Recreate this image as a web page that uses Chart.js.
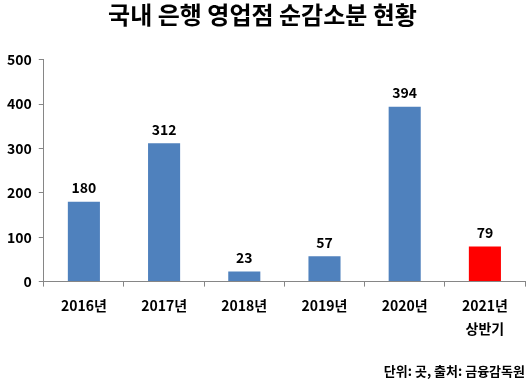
<!DOCTYPE html>
<html><head><meta charset="utf-8">
<script src="https://cdn.jsdelivr.net/npm/chart.js@4/dist/chart.umd.min.js"></script>
<style>html,body{margin:0;padding:0;background:#fff;}#c{display:block;}</style>
</head><body>
<canvas id="c" width="530" height="383"></canvas>
<script>
const categories = [["2016년"], ["2017년"], ["2018년"], ["2019년"], ["2020년"], ["2021년", "상반기"]];
const values = [180, 312, 23, 57, 394, 79];
const barColors = ["#4F81BD", "#4F81BD", "#4F81BD", "#4F81BD", "#4F81BD", "#FF0000"];
const yTicks = [0, 100, 200, 300, 400, 500];
const titleText = "국내 은행 영업점 순감소분 현황";
const footerText = "단위: 곳, 출처: 금융감독원";

const FONT = "'Noto Sans CJK KR', 'Noto Sans', sans-serif";

const labelPlugin = {
  id: 'barLabels',
  afterDatasetsDraw(chart) {
    const ctx = chart.ctx;
    const meta = chart.getDatasetMeta(0);
    ctx.save();
    ctx.font = "bold 14px " + FONT;
    ctx.fillStyle = "#000";
    ctx.textAlign = "center";
    ctx.textBaseline = "bottom";
    meta.data.forEach((bar, i) => {
      ctx.fillText(String(values[i]), bar.x, bar.y - 7);
    });
    ctx.restore();
  }
};

new Chart(document.getElementById('c'), {
  type: 'bar',
  data: {
    labels: categories,
    datasets: [{
      data: values,
      backgroundColor: barColors,
      borderWidth: 0,
      barPercentage: 0.8,
      categoryPercentage: 0.5
    }]
  },
  options: {
    responsive: false,
    animation: false,
    layout: { padding: { left: 0, right: 5, top: 0, bottom: 0 } },
    plugins: {
      legend: { display: false },
      tooltip: { enabled: false },
      title: {
        display: true, text: titleText, color: '#000',
        font: { family: FONT, size: 24, weight: 'bold' },
        padding: { top: 0, bottom: 31 }
      },
      subtitle: {
        display: true, text: footerText, position: 'bottom', align: 'end', color: '#000',
        font: { family: FONT, size: 13, weight: 'bold' },
        padding: { top: 16, bottom: 4 }
      }
    },
    scales: {
      y: {
        min: 0, max: 500,
        afterBuildTicks(axis) { axis.ticks = yTicks.map(v => ({ value: v })); },
        border: { display: true, color: '#868686', width: 1 },
        grid: { display: true, drawOnChartArea: false, drawTicks: true, tickLength: 5, color: '#868686' },
        ticks: { color: '#000', padding: 7, font: { family: FONT, size: 14, weight: 'bold' } }
      },
      x: {
        border: { display: true, color: '#868686', width: 1 },
        grid: { display: true, offset: true, drawOnChartArea: false, drawTicks: true, tickLength: 5, color: '#868686' },
        ticks: { color: '#000', padding: 8, maxRotation: 0, font: { family: FONT, size: 14, weight: 'bold', lineHeight: 1.6 } }
      }
    }
  },
  plugins: [labelPlugin]
});
</script>
</body></html>
